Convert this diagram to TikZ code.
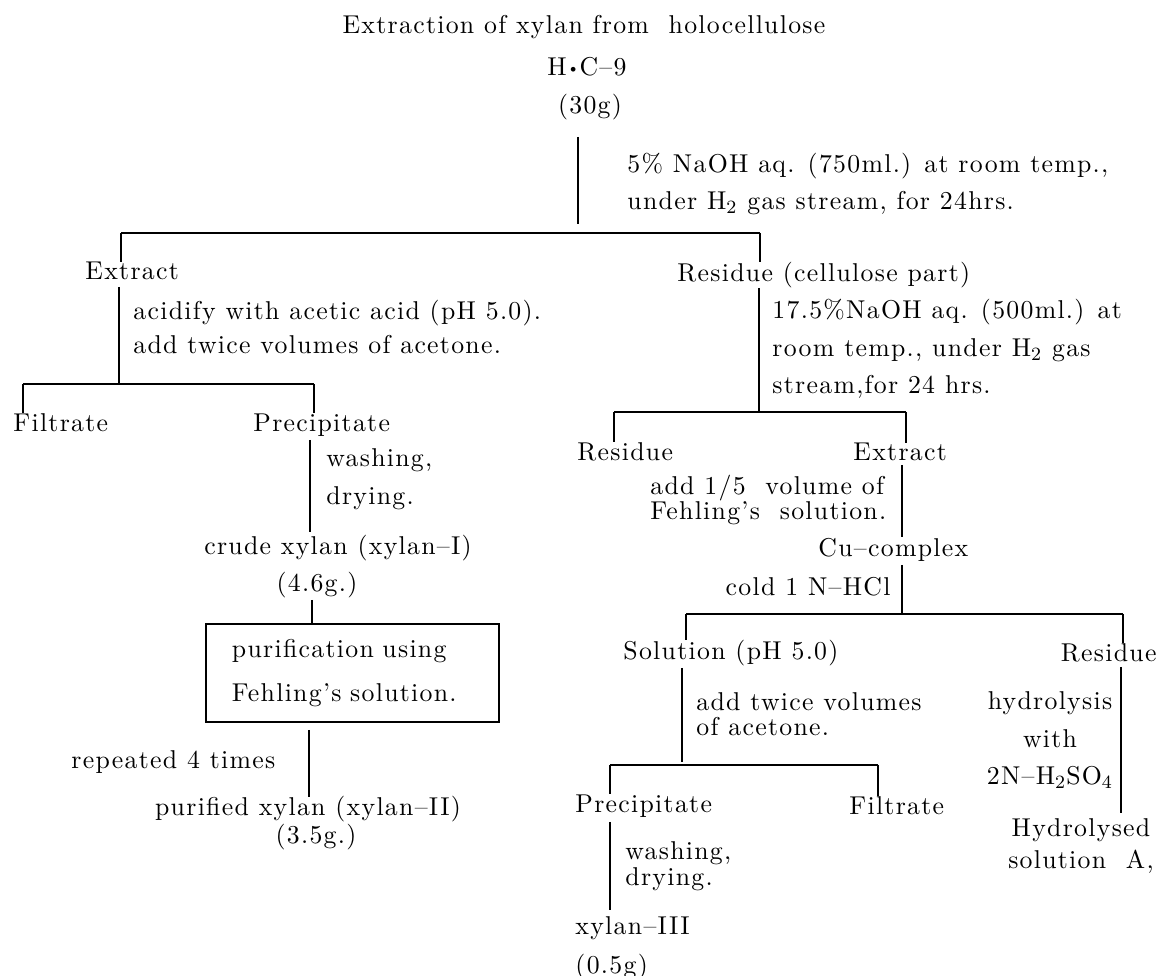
\documentclass[tikz,border=0pt]{standalone}
\usepackage{fontspec}
\setmainfont{lmroman10-regular.otf}[LetterSpace=5]
\usetikzlibrary{positioning}

\begin{document}
\begin{tikzpicture}[
  x=0.015cm, y=-0.015cm,
  every node/.style={inner sep=0pt, font=\fontsize{11}{13}\selectfont},
  txt/.style={anchor=west},
  cond/.style={anchor=west, align=left},
  ln/.style={line width=0.5pt},
  stepbox/.style={draw, line width=0.5pt, align=left, text width=3.615cm,
    inner xsep=0.39cm, minimum height=1.47cm}
]
\useasboundingbox (0,0) rectangle (1160,976);

% starting material
\node (title) at (584,27) {Extraction of xylan from\ \ holocellulose};
\node (hc) at (587,67) {H{\raisebox{0.2ex}{\scriptsize\textbullet}}C--9};
\node (w30) at (590,107) {(30g)};
\node[cond, font=\fontsize{11}{16.2}\selectfont] (naoh1) at (627,184)
  {5\% NaOH aq. (750ml.) at room temp.,\\under H$_2$ gas stream, for 24hrs.};

% left branch: extract
\node[txt] (ext1) at (85,271) {Extract};
\node[cond, font=\fontsize{11}{14.9}\selectfont] (acid) at (133,327)
  {acidify with acetic acid (pH 5.0).\\add twice volumes of acetone.};
\node[txt] (filt1) at (13,423) {Filtrate};
\node[txt] (prec1) at (253,425) {Precipitate};
\node[cond, font=\fontsize{11}{16.2}\selectfont] (wash1) at (326,479)
  {washing,\\drying.};
\node (crude) at (338,548) {crude xylan (xylan--I)};
\node (w46) at (317,585) {(4.6g.)};
\node[stepbox, font=\fontsize{11}{19}\selectfont] (purif) at (352.5,673)
  {purification using\\Fehling's solution.};
\node[txt] (rep) at (71,762) {repeated 4 times};
\node (pure) at (308,809) {purified xylan (xylan--II)};
\node (w35) at (316,837) {(3.5g.)};

% right branch: residue
\node[txt] (res1) at (677,275) {Residue (cellulose part)};
\node[cond, font=\fontsize{11}{16}\selectfont] (naoh2) at (772,349)
  {17.5\%NaOH aq. (500ml.) at\\room temp., under H$_2$ gas\\stream,for 24 hrs.};
\node[txt] (res2) at (577,452) {Residue};
\node[txt] (ext2) at (853,452) {Extract};
\node[cond, font=\fontsize{11}{10.6}\selectfont] (fehl) at (650,500)
  {add 1/5\ \ volume of\\Fehling's\ \ solution.};
\node[txt] (cu) at (818,550) {Cu--complex};
\node[anchor=east] (hcl) at (891,587) {cold 1 N--HCl};
\node[txt] (sol) at (623,653) {Solution (pH 5.0)};
\node[anchor=east] (res3) at (1157,653) {Residue};
\node[cond, font=\fontsize{11}{10.6}\selectfont] (twice) at (696,714)
  {add twice volumes\\of acetone.};
\node[align=center, font=\fontsize{11}{16.2}\selectfont] (hydro) at (1050,740)
  {hydrolysis\\with\\2N--H$_2$SO$_4$};
\node[txt] (prec2) at (575,806) {Precipitate};
\node[txt] (filt2) at (849,806) {Filtrate};
\node[cond, font=\fontsize{11}{9.4}\selectfont] (wash2) at (625,866)
  {washing,\\drying.};
\node[align=center, font=\fontsize{11}{13.6}\selectfont] (hsol) at (1081,846)
  {Hydrolysed\\solution\ \ A,};
\node[txt] (x3) at (575,928) {xylan--III};
\node[txt] (w05) at (575,967) {(0.5g)};

% branch points
\coordinate (b1l) at (121,233);  \coordinate (b1r) at (760,233);
\coordinate (b2l) at (23,384);   \coordinate (b2r) at (314,384);
\coordinate (b3l) at (614,412);  \coordinate (b3r) at (906,412);
\coordinate (b4l) at (686,614);  \coordinate (b4r) at (1123,614);
\coordinate (b5l) at (610,765);  \coordinate (b5r) at (878,765);

% connectors
\draw[line width=0.7pt] (578,137) -- (578,224);
\draw[ln] (b1l) -- (b1r);
\draw[ln] (b1l) -- (b1l |- ext1.north);
\draw[ln] (b1r) -- (b1r |- res1.north);

\draw[ln] (119,287) -- (119,384);
\draw[ln] (b2l) -- (b2r);
\draw[ln] (b2l) -- (b2l |- filt1.north);
\draw[ln] (b2r) -- (b2r |- prec1.north);
\draw[ln] (310,440) -- (310,532);
\draw[ln] (312,600) -- (purif.north -| 312,0);
\draw[ln] (309,730) -- (309,797);

\draw[ln] (759,288) -- (759,412);
\draw[ln] (b3l) -- (b3r);
\draw[ln] (b3l) -- (b3l |- res2.north);
\draw[ln] (b3r) -- (b3r |- ext2.north);
\draw[ln] (902,465) -- (902,537);
\draw[ln] (902,565) -- (902,614);
\draw[ln] (b4l) -- (b4r);
\draw[ln] (b4l) -- (b4l |- sol.north);
\draw[ln] (b4r) -- (b4r |- res3.north);
\draw[ln] (682,668) -- (682,762);
\draw[ln] (1121,667) -- (1121,813);
\draw[ln] (b5l) -- (b5r);
\draw[ln] (b5l) -- (b5l |- prec2.north);
\draw[ln] (b5r) -- (b5r |- filt2.north);
\draw[ln] (610,822) -- (610,910);
\end{tikzpicture}
\end{document}
